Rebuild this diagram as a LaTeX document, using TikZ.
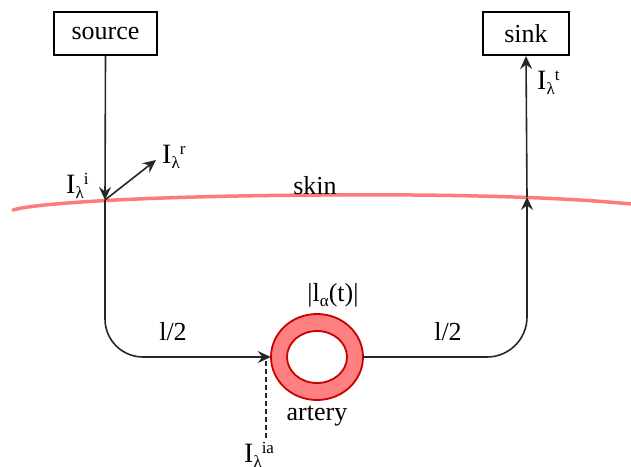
\documentclass[tikz,border=0pt]{standalone}
\usepackage{fontspec}
\setmainfont{Liberation Serif}
\usetikzlibrary{arrows.meta,shapes.geometric}
\definecolor{skinred}{HTML}{FF7A7A}
\definecolor{ringfill}{HTML}{FF8080}
\definecolor{ringline}{HTML}{C80000}
\newcommand{\Ilab}[1]{{\fontsize{28}{32}\selectfont I}\raisebox{-5pt}{\fontsize{17}{20}\selectfont λ}\raisebox{8.5pt}{\fontsize{17}{20}\selectfont #1}}
\begin{document}
\begin{tikzpicture}[x=1pt,y=-1pt,
  every node/.style={font=\fontsize{26}{30}\selectfont, inner sep=0pt},
  boxnode/.style={draw, line width=2.2pt, inner sep=0pt},
  conn/.style={line width=1.6pt, draw=black!85},
  tip/.style={-{Stealth[length=13pt,width=12pt,inset=4.5pt]}},
  lab/.style={anchor=base west},
  ctr/.style={anchor=base}]
\useasboundingbox (0,0) rectangle (631,466);
% boxes
\node[boxnode, minimum width=103pt, minimum height=43pt] (source) at (105.5,33.5) {source};
\node[boxnode, minimum width=86pt, minimum height=43pt] (sink) at (526,33.5) {sink};
% skin
\draw[skinred, line width=3.5pt, line cap=round] (13,210) .. controls (35,203) and (150,196) .. (320,195) .. controls (450,194) and (560,197) .. (631,204);
\coordinate (skinL) at (105,200);
\coordinate (skinR) at (527,197);
\coordinate (refl) at (156,160);
% artery
\fill[ringfill, even odd rule] (317,357) ellipse [x radius=46, y radius=43] (317,357) ellipse [x radius=30, y radius=26];
\draw[ringline, line width=1.8pt] (317,357) ellipse [x radius=46, y radius=43];
\draw[ringline, line width=1.8pt] (317,357) ellipse [x radius=30, y radius=26];
\node[ellipse, minimum width=92pt, minimum height=86pt] (artery) at (317,357) {};
% connectors
\draw[conn, tip] (source.south) -- (skinL);
\draw[conn, tip, rounded corners=38pt] (skinL) |- (artery.west);
\draw[conn, tip] (skinL) -- (refl);
\draw[conn, tip, rounded corners=40pt] (artery.east) -| (skinR);
\draw[conn, tip] (skinR) -- (sink.south);
\coordinate (dtop) at (266,361);
\coordinate (dbot) at (266,440);
\draw[conn, line width=1.3pt, dash pattern=on 5pt off 3pt] (dtop) -- (dbot);
% labels
\node[ctr] (skin) at (315,194) {skin};
\node[ctr] (hl) at (173,340) {l/2};
\node[ctr] (hr) at (448,340) {l/2};
\node[ctr] (la) at (333,301) {|l\raisebox{-5pt}{\fontsize{17}{20}\selectfont α}(t)|};
\node[ctr] (art) at (317,420) {artery};
\node[lab] (Ii) at (66,193) {\Ilab{i}};
\node[lab] (Ir) at (162,163) {\Ilab{r}};
\node[lab] (It) at (537,89) {\Ilab{t}};
\node[lab] (Iia) at (244,462) {\Ilab{ia}};
\end{tikzpicture}
\end{document}
